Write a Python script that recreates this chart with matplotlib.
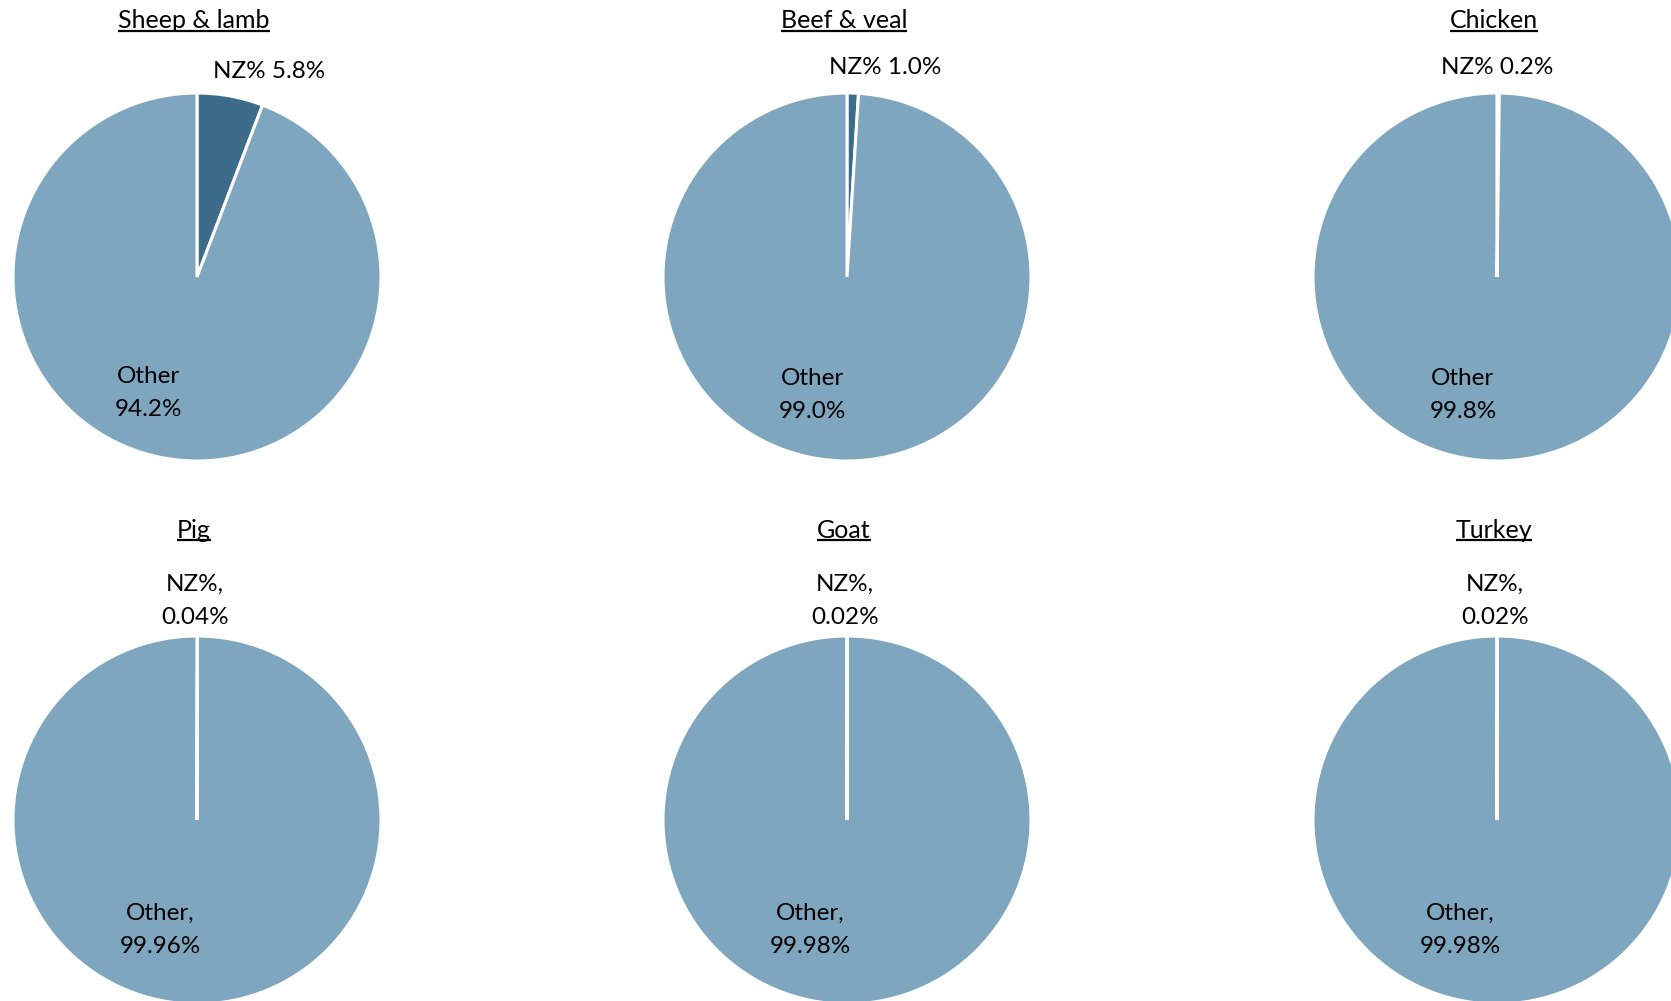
import matplotlib
matplotlib.use("Agg")
import matplotlib.pyplot as plt

plt.rcParams["font.family"] = ["Lato", "DejaVu Sans"]

# ── Data ──────────────────────────────────────────────────────────────────────
meats = ["Sheep & lamb", "Beef & veal", "Chicken", "Pig", "Goat", "Turkey"]
nz_share = [5.8, 1.0, 0.2, 0.04, 0.02, 0.02]
other_share = [94.2, 99.0, 99.8, 99.96, 99.98, 99.98]
nz_labels = ["NZ% 5.8%", "NZ% 1.0%", "NZ% 0.2%", "NZ%,\n0.04%", "NZ%,\n0.02%", "NZ%,\n0.02%"]
other_labels = ["Other\n94.2%", "Other\n99.0%", "Other\n99.8%",
                "Other,\n99.96%", "Other,\n99.98%", "Other,\n99.98%"]

DARK = "#3d6b8a"
LIGHT = "#7ea6bf"

# layout in pixel coordinates of the 1671x1001 canvas
W, H = 1671, 1001
col_x = [197, 847, 1497]
row_y = [277, 820]
R = 184
title_y = [21, 530]
nz_offset_top = [(72, -206), (38, -209), (0, -209)]
other_offset_top = [(-48, 116), (-35, 118), (-34, 118)]
nz_offset_bottom = (-2, -219)
other_offset_bottom = (-37, 110)

fig = plt.figure(figsize=(W / 100, H / 100), dpi=100)
ax = fig.add_axes([0, 0, 1, 1])

titles = []
for i, name in enumerate(meats):
    r, c = divmod(i, 3)
    cx, cy = col_x[c], row_y[r]
    # y axis is inverted: -90 is the top, counterclock in data = clockwise on screen
    ax.pie([nz_share[i], other_share[i]], colors=[DARK, LIGHT],
           startangle=-90, counterclock=True, center=(cx, cy), radius=R,
           wedgeprops={"edgecolor": "white", "linewidth": 2.2},
           frame=True)
    t = ax.text(cx - 3, title_y[r], name, ha="center", va="center", fontsize=18)
    titles.append(t)

    if r == 0:
        dx, dy = nz_offset_top[c]
        ox, oy = other_offset_top[c]
    else:
        dx, dy = nz_offset_bottom
        ox, oy = other_offset_bottom
    ax.text(cx + dx, cy + dy, nz_labels[i], ha="center", va="center",
            fontsize=17.5, linespacing=1.72)
    ax.text(cx + ox, cy + oy, other_labels[i], ha="center", va="center",
            fontsize=17.5, linespacing=1.72)

ax.set_xlim(0, W)
ax.set_ylim(H, 0)
ax.set_aspect("equal")
ax.axis("off")

# underline the titles
fig.canvas.draw()
renderer = fig.canvas.get_renderer()
inv = ax.transData.inverted()
for t in titles:
    bb = t.get_window_extent(renderer)
    (x0, y0), (x1, y1) = inv.transform([(bb.x0, bb.y0), (bb.x1, bb.y1)])
    ax.plot([x0, x1], [y0 - 2, y0 - 2], color="black", lw=1.6,
            solid_capstyle="butt")

fig.savefig("out.png", dpi=100)
